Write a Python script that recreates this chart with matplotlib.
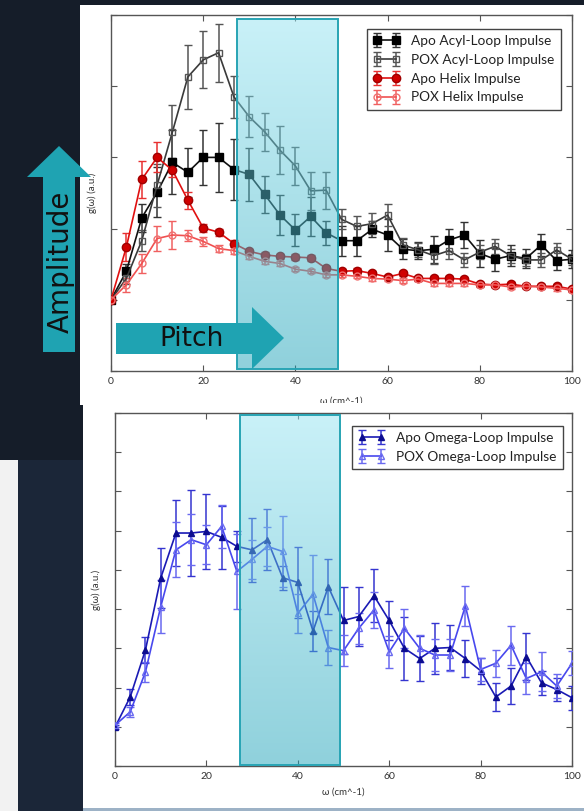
import numpy as np
import matplotlib
matplotlib.use("Agg")
import matplotlib.pyplot as plt
from matplotlib.patches import Rectangle, Polygon
from matplotlib.transforms import Bbox, TransformedBbox

# ---------------- data ----------------
omega = [0, 3.33, 6.67, 10, 13.33, 16.67, 20, 23.33, 26.67, 30, 33.33, 36.67, 40,
         43.33, 46.67, 50, 53.33, 56.67, 60, 63.33, 66.67, 70, 73.33, 76.67, 80,
         83.33, 86.67, 90, 93.33, 96.67, 100]
xticks = [0, 20, 40, 60, 80, 100]

apo_acyl = [1.0, 1.40, 2.15, 2.51, 2.93, 2.79, 3.00, 3.00, 2.83, 2.76, 2.48, 2.19, 1.98,
            2.17, 1.94, 1.83, 1.83, 1.99, 1.91, 1.71, 1.69, 1.71, 1.84, 1.91, 1.65,
            1.57, 1.62, 1.58, 1.77, 1.55, 1.57]
apo_acyl_err = [0.03, 0.10, 0.20, 0.35, 0.45, 0.34, 0.39, 0.48, 0.43, 0.37, 0.26, 0.28, 0.22,
                0.28, 0.17, 0.21, 0.21, 0.11, 0.22, 0.14, 0.12, 0.19, 0.16, 0.18, 0.19,
                0.16, 0.15, 0.13, 0.15, 0.13, 0.13]
pox_acyl = [1.0, 1.30, 1.83, 2.61, 3.36, 4.13, 4.37, 4.47, 3.85, 3.57, 3.36, 3.10, 2.88,
            2.53, 2.54, 2.13, 2.03, 2.07, 2.19, 1.77, 1.70, 1.62, 1.69, 1.56, 1.67,
            1.75, 1.62, 1.56, 1.56, 1.70, 1.57]
pox_acyl_err = [0.03, 0.08, 0.15, 0.30, 0.37, 0.45, 0.40, 0.41, 0.30, 0.29, 0.27, 0.34, 0.27,
                0.27, 0.26, 0.14, 0.15, 0.15, 0.16, 0.10, 0.10, 0.12, 0.12, 0.10, 0.10,
                0.10, 0.10, 0.08, 0.10, 0.10, 0.08]
apo_helix = [1.0, 1.74, 2.69, 3.00, 2.82, 2.40, 2.01, 1.95, 1.79, 1.68, 1.63, 1.61, 1.60,
             1.59, 1.44, 1.40, 1.41, 1.37, 1.32, 1.37, 1.30, 1.30, 1.30, 1.29, 1.22,
             1.21, 1.22, 1.19, 1.19, 1.19, 1.15]
apo_helix_err = [0.03, 0.20, 0.26, 0.21, 0.10, 0.12, 0.06, 0.05, 0.05, 0.04, 0.04, 0.04, 0.04,
                 0.04, 0.03, 0.03, 0.03, 0.03, 0.03, 0.03, 0.03, 0.03, 0.03, 0.03, 0.03,
                 0.03, 0.03, 0.03, 0.03, 0.03, 0.03]
pox_helix = [1.0, 1.21, 1.51, 1.86, 1.91, 1.90, 1.82, 1.72, 1.69, 1.61, 1.54, 1.51, 1.43,
             1.40, 1.35, 1.35, 1.33, 1.30, 1.29, 1.27, 1.29, 1.23, 1.23, 1.23, 1.21,
             1.21, 1.18, 1.19, 1.18, 1.16, 1.14]
pox_helix_err = [0.03, 0.10, 0.13, 0.17, 0.19, 0.08, 0.06, 0.05, 0.05, 0.04, 0.04, 0.04, 0.03,
                 0.03, 0.03, 0.03, 0.03, 0.03, 0.03, 0.03, 0.03, 0.03, 0.03, 0.03, 0.03,
                 0.03, 0.03, 0.03, 0.03, 0.03, 0.03]

apo_omega = [0.99, 1.76, 2.96, 4.79, 5.94, 5.94, 5.98, 5.83, 5.60, 5.51, 5.77, 4.80, 4.68,
             3.44, 4.57, 3.71, 3.81, 4.34, 3.71, 3.00, 2.74, 3.00, 3.02, 2.74, 2.43,
             1.76, 2.04, 2.79, 2.12, 1.95, 1.74]
apo_omega_err = [0.05, 0.20, 0.34, 0.76, 0.85, 1.10, 0.95, 0.80, 0.40, 0.82, 0.77, 0.30, 0.90,
                 0.50, 0.70, 0.85, 0.75, 0.68, 0.50, 0.80, 0.58, 0.65, 0.57, 0.47, 0.33,
                 0.35, 0.45, 0.60, 0.30, 0.30, 0.30]
pox_omega = [1.04, 1.38, 2.40, 4.06, 5.51, 5.77, 5.64, 6.11, 4.96, 5.27, 5.60, 5.47, 3.89,
             4.38, 3.02, 2.94, 3.51, 3.98, 2.91, 3.51, 3.00, 2.83, 2.83, 4.08, 2.46,
             2.62, 3.08, 2.23, 2.40, 2.04, 2.62]
pox_omega_err = [0.05, 0.12, 0.25, 0.68, 0.70, 0.65, 0.50, 0.55, 0.95, 0.50, 0.50, 0.90, 0.50,
                 1.00, 0.45, 0.40, 0.40, 0.45, 0.40, 0.50, 0.35, 0.40, 0.40, 0.52, 0.30,
                 0.35, 0.50, 0.40, 0.50, 0.30, 0.30]

highlight = (27.3, 49.3)

# ---------------- layout helpers ----------------
W, H = 584, 811
fig = plt.figure(figsize=(W / 100, H / 100), dpi=100)
fig.patch.set_facecolor("#151d29")


def fr(x0, y0, x1, y1):
    return [x0 / W, 1 - y1 / H, (x1 - x0) / W, (y1 - y0) / H]


def fp(pts):
    return [(x / W, 1 - y / H) for x, y in pts]


def bg(x0, y0, x1, y1, color):
    fig.add_artist(Rectangle((x0 / W, 1 - y1 / H), (x1 - x0) / W, (y1 - y0) / H,
                             transform=fig.transFigure, facecolor=color,
                             edgecolor="none", zorder=-5))


bg(80, 5, 584, 405, "white")
bg(83, 405, 584, 808, "white")
bg(83, 808, 584, 811, "#9db2c6")
bg(18, 460, 83, 811, "#1b2638")
bg(0, 460, 18, 811, "#f2f2f2")

TICKFONT = dict(family=["Lato", "DejaVu Sans"], size=7.5, color="#333333")
LEGFONT = dict(family=["Lato", "DejaVu Sans"], size=9.8)


def style_axes(ax, ymax):
    ax.set_facecolor("none")
    ax.set_xlim(0, 100)
    ax.set_ylim(0, ymax)
    ax.set_xticks(xticks)
    ax.set_xticklabels([str(t) for t in xticks], **TICKFONT)
    ax.set_yticks(range(0, ymax + 1))
    ax.set_yticklabels([])
    ax.tick_params(direction="in", length=4, width=0.8, color="#555555",
                   top=True, right=True, pad=4)
    for s in ax.spines.values():
        s.set_color("#555555")
        s.set_linewidth(1.0)
    ax.set_ylabel("g(ω) (a.u.)", fontsize=7, color="#333333",
                  family=["Lato", "DejaVu Sans"], labelpad=6)


def add_box(ax, ymax):
    ylo, yhi = 0.03, ymax - 0.06
    n = 256
    top = np.array([147, 227, 241]) / 255
    bot = np.array([31, 163, 185]) / 255
    t = np.linspace(0, 1, n)[:, None]
    rgb = top * (1 - t) + bot * t
    img = np.dstack([np.repeat(rgb[:, None, 0], 2, axis=1),
                     np.repeat(rgb[:, None, 1], 2, axis=1),
                     np.repeat(rgb[:, None, 2], 2, axis=1),
                     np.full((n, 2), 0.5)])
    ax.imshow(img, extent=[highlight[0], highlight[1], ylo, yhi], origin="upper",
              aspect="auto", zorder=5, interpolation="bilinear")
    ax.add_patch(Rectangle((highlight[0], ylo), highlight[1] - highlight[0], yhi - ylo,
                           facecolor="none", edgecolor="#28a4b4", lw=1.4, zorder=6))
    ax.set_xlim(0, 100)
    ax.set_ylim(0, ymax)


# ---------------- top panel ----------------
ax1 = fig.add_axes(fr(111, 15, 572, 371))
style_axes(ax1, 5)
eb = dict(capsize=3, elinewidth=1.1, capthick=1.0, lw=1.2)
ax1.errorbar(omega, apo_acyl, yerr=apo_acyl_err, fmt="-s", color="#111111",
             ecolor="#333333", mfc="#000000", mec="#000000", ms=5.5,
             label="Apo Acyl-Loop Impulse", zorder=3, **eb)
ax1.errorbar(omega, pox_acyl, yerr=pox_acyl_err, fmt="-s", color="#3a3a3a",
             ecolor="#555555", mfc="none", mec="#555555", ms=5,
             label="POX Acyl-Loop Impulse", zorder=3, **eb)
ax1.errorbar(omega, apo_helix, yerr=apo_helix_err, fmt="-o", color="#e01010",
             ecolor="#e83030", mfc="#d00000", mec="#a00000", ms=6,
             label="Apo Helix Impulse", zorder=3, **eb)
ax1.errorbar(omega, pox_helix, yerr=pox_helix_err, fmt="-o", color="#f05050",
             ecolor="#f06060", mfc="none", mec="#f07070", ms=5,
             label="POX Helix Impulse", zorder=3, **eb)
add_box(ax1, 5)
leg1 = ax1.legend(loc="upper right", numpoints=2, fancybox=False, framealpha=1,
                  edgecolor="#444444", prop=LEGFONT,
                  handlelength=2.0, borderpad=0.45, labelspacing=0.5,
                  bbox_to_anchor=(0.99, 0.98))
leg1.get_frame().set_linewidth(1.0)
leg1.set_zorder(10)
for t in leg1.get_texts():
    t.set_color("#222222")
xl = ax1.set_xlabel("ω (cm^-1)", fontsize=7, color="#333333",
                    family=["Lato", "DejaVu Sans"], labelpad=8)
clipbb = Bbox.from_extents(0, 1 - 403 / H, 1, 1)
xl.set_clip_box(TransformedBbox(clipbb, fig.transFigure))
xl.set_clip_on(True)

# ---------------- bottom panel ----------------
ax2 = fig.add_axes(fr(115, 413, 572, 766))
style_axes(ax2, 9)
ax2.errorbar(omega, apo_omega, yerr=apo_omega_err, fmt="-^", color="#1a1ab4",
             ecolor="#3535d0", mfc="#0c0c90", mec="#0c0c90", ms=5,
             label="Apo Omega-Loop Impulse", zorder=3, **eb)
ax2.errorbar(omega, pox_omega, yerr=pox_omega_err, fmt="-^", color="#4848ee",
             ecolor="#6a6af0", mfc="none", mec="#6a6af0", ms=5,
             label="POX Omega-Loop Impulse", zorder=3, **eb)
add_box(ax2, 9)
leg2 = ax2.legend(loc="upper right", numpoints=2, fancybox=False, framealpha=1,
                  edgecolor="#444444", prop=LEGFONT,
                  handlelength=2.0, borderpad=0.45, labelspacing=0.5,
                  bbox_to_anchor=(0.995, 0.983))
leg2.get_frame().set_linewidth(1.0)
leg2.set_zorder(10)
for t in leg2.get_texts():
    t.set_color("#222222")
ax2.set_xlabel("ω (cm^-1)", fontsize=7, color="#333333",
               family=["Lato", "DejaVu Sans"], labelpad=5)

# ---------------- annotation arrows ----------------
teal = "#1fa3b2"
pitch = Polygon(fp([(116, 323), (252, 323), (252, 307), (284, 338), (252, 369),
                    (252, 354), (116, 354)]), closed=True, transform=fig.transFigure,
                facecolor=teal, edgecolor="none", zorder=20)
fig.add_artist(pitch)
fig.text(192 / W, 1 - 339 / H, "Pitch", ha="center", va="center", fontsize=19,
         color="#111111", zorder=21)

amp = Polygon(fp([(43, 352), (43, 177), (27, 177), (59, 146), (91, 177), (75, 177),
                  (75, 352)]), closed=True, transform=fig.transFigure,
              facecolor=teal, edgecolor="none", zorder=20)
fig.add_artist(amp)
fig.text(61 / W, 1 - 262 / H, "Amplitude", ha="center", va="center", rotation=90,
         fontsize=20, color="#111111", zorder=21)

fig.savefig("out.png", dpi=100, facecolor=fig.get_facecolor())
